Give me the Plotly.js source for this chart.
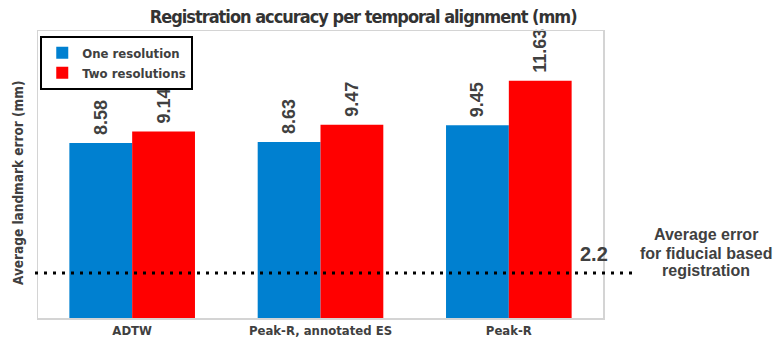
<!DOCTYPE html>
<html>
<head>
<meta charset="utf-8">
<script src="https://cdn.plot.ly/plotly-3.0.1.min.js"></script>
<style>html,body{margin:0;padding:0;background:#fff;}#chart{width:776px;height:347px;}
.gtitle{letter-spacing:-1px;}</style>
</head>
<body>
<div id="chart"></div>
<script>
const categories = ["ADTW", "Peak-R, annotated ES", "Peak-R"];
const oneResolution = [8.58, 8.63, 9.45];
const twoResolutions = [9.14, 9.47, 11.63];
const seriesNames = ["One resolution", "Two resolutions"];
const fiducialError = 2.2;
const fiducialLabel = ["Average error", "for fiducial based", "registration"];

const narrow = '"Liberation Sans Narrow", "DejaVu Sans Condensed", "Arial Narrow", sans-serif';
const sans = '"Liberation Sans", Arial, sans-serif';
const textCol = '#404040';

const valFont = {family: sans, size: 18, color: textCol, weight: 'bold'};
const lbl = v => '\u00a0' + v.toFixed(2);

const traces = [
  {type: 'bar', name: seriesNames[0], x: categories, y: oneResolution,
   marker: {color: '#0080D0'}, text: oneResolution.map(lbl),
   textposition: 'outside', textangle: -90, textfont: valFont,
   cliponaxis: false, constraintext: 'none', hoverinfo: 'none'},
  {type: 'bar', name: seriesNames[1], x: categories, y: twoResolutions,
   marker: {color: '#FF0000'}, text: twoResolutions.map(lbl),
   textposition: 'outside', textangle: -90, textfont: valFont,
   cliponaxis: false, constraintext: 'none', hoverinfo: 'none'}
];

const H = 287, B = 318, L = 38, W = 565;
const py = p => (B - p) / H;
const px = p => (p - L) / W;

const annos = [
  {text: 'Average landmark error (mm)', textangle: -90, showarrow: false,
   xref: 'paper', yref: 'paper', x: px(18), y: py(183), xanchor: 'center', yanchor: 'middle',
   font: {family: narrow, size: 13.5, color: textCol, weight: 'bold'}},
  {text: String(fiducialError), showarrow: false,
   xref: 'paper', yref: 'y', x: px(594), y: fiducialError, xanchor: 'center', yanchor: 'bottom', yshift: 6,
   font: {family: sans, size: 20, color: textCol, weight: 'bold'}}
];
const lineY = [235, 253, 270];
fiducialLabel.forEach((t, i) => annos.push({
  text: t, showarrow: false, xref: 'paper', yref: 'paper', x: px(706), y: py(lineY[i]),
  xanchor: 'center', yanchor: 'middle',
  font: {family: sans, size: 16, color: textCol, weight: 'bold'}
}));

const layout = {
  width: 776, height: 347,
  margin: {l: 38, r: 173, t: 31, b: 29},
  paper_bgcolor: '#fff', plot_bgcolor: '#fff',
  barmode: 'group', bargap: 0.333, bargroupgap: 0,
  showlegend: true,
  title: {text: 'Registration accuracy per temporal alignment (mm)',
          font: {family: narrow, size: 18, color: '#333333', weight: 'bold'},
          xref: 'container', x: 0.468, xanchor: 'center',
          yref: 'container', y: 0.951, yanchor: 'middle'},
  legend: {x: 0.004, y: 0.983, xanchor: 'left', yanchor: 'top',
           bordercolor: '#000', borderwidth: 2, bgcolor: '#fff',
           font: {family: narrow, size: 13, color: textCol, weight: 'bold'},
           tracegroupgap: 0, itemwidth: 30},
  xaxis: {showline: true, mirror: true, linecolor: '#d4d4d4', linewidth: 1.5,
          ticks: '', showgrid: false, zeroline: false,
          tickfont: {family: narrow, size: 13, color: textCol, weight: 'bold'}},
  yaxis: {range: [0, 14.07], showline: true, mirror: true, linecolor: '#d4d4d4', linewidth: 1.5,
          showticklabels: false, ticks: '', showgrid: false, zeroline: false, fixedrange: true},
  shapes: [
    {type: 'line', xref: 'paper', yref: 'y', x0: px(35), x1: px(638),
     y0: fiducialError, y1: fiducialError,
     line: {color: '#000', width: 3, dash: '3px,6px'}}
  ],
  annotations: annos
};

Plotly.newPlot('chart', traces, layout, {staticPlot: true, displayModeBar: false});
</script>
</body>
</html>
